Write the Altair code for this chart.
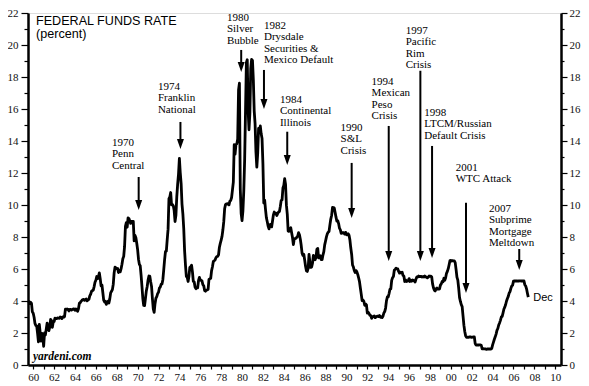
import altair as alt
import pandas as pd

FIRST_YEAR = 1960

# Monthly effective federal funds rate (percent)
rates_1960s = [
    3.99, 3.97, 3.84, 3.92, 3.85, 3.32, 3.23, 2.98, 2.60, 2.47, 2.44, 1.98,
    1.45, 2.54, 2.02, 1.49, 1.98, 1.73, 1.17, 2.00, 1.88, 2.26, 2.62, 2.33,
    2.15, 2.37, 2.85, 2.78, 2.36, 2.68, 2.71, 2.93, 2.90, 2.90, 2.94, 2.93,
    2.92, 3.00, 2.98, 2.90, 3.00, 2.99, 3.02, 3.49, 3.48, 3.50, 3.48, 3.38,
    3.48, 3.48, 3.43, 3.47, 3.50, 3.50, 3.42, 3.50, 3.45, 3.36, 3.52, 3.85,
    3.90, 3.98, 4.04, 4.09, 4.10, 4.04, 4.09, 4.12, 4.01, 4.08, 4.10, 4.32,
    4.42, 4.60, 4.65, 4.67, 4.90, 5.17, 5.30, 5.53, 5.40, 5.53, 5.76, 5.40,
    4.94, 5.00, 4.53, 4.05, 3.94, 3.98, 3.79, 3.90, 3.99, 3.88, 4.13, 4.51,
    4.61, 4.71, 5.05, 5.76, 6.11, 6.07, 6.02, 6.03, 5.78, 5.91, 5.82, 6.02,
    6.30, 6.64, 6.79, 7.41, 8.67, 8.90, 8.61, 9.19, 9.15, 9.00, 8.85, 8.97,
]
rates_1970s = [
    8.98, 8.98, 7.76, 8.10, 7.95, 7.61, 7.21, 6.61, 6.29, 6.20, 5.60, 4.90,
    4.14, 3.72, 3.71, 4.16, 4.63, 4.91, 5.31, 5.56, 5.55, 5.20, 4.91, 4.14,
    3.50, 3.29, 3.83, 4.17, 4.27, 4.46, 4.55, 4.80, 4.87, 5.04, 5.06, 5.33,
    5.94, 6.58, 7.09, 7.12, 7.84, 8.49, 10.40, 10.50, 10.78, 10.01, 10.03, 9.95,
    9.65, 8.97, 9.35, 10.51, 11.31, 11.93, 12.92, 12.01, 11.34, 10.06, 9.45, 8.53,
    7.13, 6.24, 5.54, 5.49, 5.22, 5.55, 6.10, 6.14, 6.24, 5.82, 5.22, 5.20,
    4.87, 4.77, 4.84, 4.82, 5.29, 5.48, 5.31, 5.29, 5.25, 5.02, 4.95, 4.65,
    4.61, 4.68, 4.69, 4.73, 5.35, 5.39, 5.42, 5.90, 6.14, 6.47, 6.51, 6.56,
    6.70, 6.78, 6.79, 6.89, 7.36, 7.60, 7.81, 8.04, 8.45, 8.96, 9.76, 10.03,
    10.07, 10.06, 10.09, 10.01, 10.24, 10.29, 10.47, 10.94, 11.43, 13.77, 13.18, 13.78,
]
rates_1980s = [
    13.82, 14.13, 17.19, 17.61, 10.98, 9.47, 9.03, 9.61, 10.87, 12.81, 15.85, 18.90,
    19.08, 15.93, 14.70, 15.72, 18.52, 19.10, 19.04, 17.82, 15.87, 15.08, 13.31, 12.37,
    13.22, 14.78, 14.68, 14.94, 14.45, 14.15, 12.59, 10.12, 10.31, 9.71, 9.20, 8.95,
    8.68, 8.51, 8.77, 8.80, 8.63, 8.98, 9.37, 9.56, 9.45, 9.48, 9.34, 9.47,
    9.56, 9.59, 9.91, 10.29, 10.32, 11.06, 11.23, 11.64, 11.30, 9.99, 9.43, 8.38,
    8.35, 8.50, 8.58, 8.27, 7.97, 7.53, 7.88, 7.90, 7.92, 7.99, 8.05, 8.27,
    8.14, 7.86, 7.48, 6.99, 6.85, 6.92, 6.56, 6.17, 5.89, 5.85, 6.04, 6.91,
    6.43, 6.10, 6.13, 6.37, 6.85, 6.73, 6.58, 6.73, 7.22, 7.29, 6.69, 6.77,
    6.83, 6.58, 6.58, 6.87, 7.09, 7.51, 7.75, 8.01, 8.19, 8.30, 8.35, 8.76,
    9.12, 9.36, 9.85, 9.84, 9.81, 9.53, 9.24, 8.99, 9.02, 8.84, 8.55, 8.45,
]
rates_1990s = [
    8.23, 8.24, 8.28, 8.26, 8.18, 8.29, 8.15, 8.13, 8.20, 8.11, 7.81, 7.31,
    6.91, 6.25, 6.12, 5.91, 5.78, 5.90, 5.82, 5.66, 5.45, 5.21, 4.81, 4.43,
    4.03, 4.06, 3.98, 3.73, 3.82, 3.76, 3.25, 3.30, 3.22, 3.10, 3.09, 2.92,
    3.02, 3.03, 3.07, 2.96, 3.00, 3.04, 3.06, 3.03, 3.09, 2.99, 3.02, 2.96,
    3.05, 3.25, 3.34, 3.56, 4.01, 4.25, 4.26, 4.47, 4.73, 4.76, 5.29, 5.45,
    5.53, 5.92, 5.98, 6.05, 6.01, 6.00, 5.85, 5.74, 5.80, 5.76, 5.80, 5.60,
    5.56, 5.22, 5.31, 5.22, 5.24, 5.27, 5.40, 5.22, 5.30, 5.24, 5.31, 5.29,
    5.25, 5.19, 5.39, 5.51, 5.50, 5.56, 5.52, 5.54, 5.54, 5.50, 5.52, 5.50,
    5.56, 5.51, 5.49, 5.45, 5.49, 5.56, 5.54, 5.55, 5.51, 5.07, 4.83, 4.68,
    4.63, 4.76, 4.81, 4.74, 4.74, 4.76, 4.99, 5.07, 5.22, 5.20, 5.42, 5.30,
]
rates_2000s = [
    5.45, 5.73, 5.85, 6.02, 6.27, 6.53, 6.54, 6.50, 6.52, 6.51, 6.51, 6.40,
    5.98, 5.49, 5.31, 4.80, 4.21, 3.97, 3.77, 3.65, 3.07, 2.49, 2.09, 1.82,
    1.73, 1.74, 1.73, 1.75, 1.75, 1.75, 1.73, 1.74, 1.75, 1.75, 1.34, 1.24,
    1.24, 1.26, 1.25, 1.26, 1.26, 1.22, 1.01, 1.03, 1.01, 1.01, 1.00, 0.98,
    1.00, 1.01, 1.00, 1.00, 1.00, 1.03, 1.26, 1.43, 1.61, 1.76, 1.93, 2.16,
    2.28, 2.50, 2.63, 2.79, 3.00, 3.04, 3.26, 3.50, 3.62, 3.78, 4.00, 4.16,
    4.29, 4.49, 4.59, 4.79, 4.94, 4.99, 5.24, 5.25, 5.25, 5.25, 5.25, 5.24,
    5.25, 5.26, 5.26, 5.25, 5.25, 5.25, 5.26, 5.02, 4.94, 4.76, 4.49, 4.24,
]

# Event annotations
ann_labels = [
    "1970\nPenn\nCentral",
    "1974\nFranklin\nNational",
    "1980\nSilver\nBubble",
    "1982\nDrysdale\nSecurities &\nMexico Default",
    "1984\nContinental\nIllinois",
    "1990\nS&L\nCrisis",
    "1994\nMexican\nPeso\nCrisis",
    "1997\nPacific\nRim\nCrisis",
    "1998\nLTCM/Russian\nDefault Crisis",
    "2001\nWTC Attack",
    "2007\nSubprime\nMortgage\nMeltdown",
]
ann_text_x = [1968.04, 1972.44, 1979.05, 1982.6, 1984.13, 1989.94, 1992.91, 1996.17, 1997.95, 2000.96, 2004.15]
ann_text_y = [13.69, 17.19, 21.5, 21.0, 16.38, 14.63, 17.5, 20.69, 15.56, 12.13, 9.56]
arrow_x = [1970.6, 1974.6, 1980.42, 1982.6, 1984.83, 1991.0, 1994.55, 1997.58, 1998.7, 2001.95, 2007.05]
arrow_top = [11.75, 15.19, 19.69, 18.44, 14.58, 12.63, 14.94, 18.39, 13.69, 10.14, 7.25]
arrow_tip = [9.69, 13.5, 18.31, 16.0, 12.5, 9.19, 6.5, 6.5, 6.69, 4.5, 5.94]

x_tick_values = [y + 0.5 for y in range(1960, 2011)]
y_tick_values = list(range(0, 23))

monthly = rates_1960s + rates_1970s + rates_1980s + rates_1990s + rates_2000s
df = pd.DataFrame({
    "t": [FIRST_YEAR + i / 12 for i in range(len(monthly))],
    "rate": monthly,
})
df_end = df.tail(1).assign(label="Dec")
df_ann = pd.DataFrame({"t": ann_text_x, "y": ann_text_y, "label": ann_labels})
df_arrow = pd.DataFrame({"t": arrow_x, "top": arrow_top, "tip": arrow_tip})
df_arrow["rule_end"] = df_arrow["tip"] + 0.3

SERIF = "Liberation Serif"
SANS = "Liberation Sans"

xscale = alt.Scale(domain=[1960.0, 2011.05], nice=False, zero=False)
yscale = alt.Scale(domain=[0, 22], nice=False, zero=False)

common_axis = dict(
    grid=False, title=None, domainColor="black", domainWidth=2.5,
    tickColor="black", tickWidth=1.2, labelFont=SERIF, labelFontSize=11,
    labelColor="#111", labelOverlap=False, labelFlush=False,
)

x_axis = alt.Axis(
    values=x_tick_values,
    labelExpr="floor(datum.value) % 2 == 0 ? substring(toString(floor(datum.value)), 2, 4) : ''",
    tickSize=4, labelPadding=2, **common_axis,
)
y_left = alt.Axis(
    orient="left", values=y_tick_values,
    labelExpr="datum.value % 2 == 0 ? datum.label : ''",
    tickSize={"condition": {"test": "datum.value % 2 == 0", "value": 7}, "value": 4},
    labelPadding=3, **common_axis,
)
y_right = alt.Axis(
    orient="right", values=y_tick_values,
    labelExpr="datum.value % 2 == 0 ? datum.label : ''",
    tickSize={"condition": {"test": "datum.value % 2 == 0", "value": 6}, "value": 3},
    labelPadding=2, **common_axis,
)

line = alt.Chart(df).mark_line(color="black", strokeWidth=2.8, strokeJoin="round").encode(
    x=alt.X("t:Q", scale=xscale, axis=x_axis),
    y=alt.Y("rate:Q", scale=yscale, axis=y_left),
)
line_right = alt.Chart(df).mark_line(opacity=0).encode(
    x=alt.X("t:Q", scale=xscale, axis=None),
    y=alt.Y("rate:Q", scale=yscale, axis=y_right),
)

rules = alt.Chart(df_arrow).mark_rule(color="black", strokeWidth=2).encode(
    x=alt.X("t:Q", scale=xscale, axis=None),
    y=alt.Y("top:Q", scale=yscale, axis=None),
    y2="rule_end:Q",
)
heads = alt.Chart(df_arrow).mark_point(
    shape="M-0.7,-1L0.7,-1L0,1Z", filled=True, size=100, color="black",
    opacity=1, strokeWidth=0, yOffset=-5,
).encode(
    x=alt.X("t:Q", scale=xscale, axis=None),
    y=alt.Y("tip:Q", scale=yscale, axis=None),
)

ann_text = alt.Chart(df_ann).mark_text(
    align="left", baseline="alphabetic", lineBreak="\n", lineHeight=11.4,
    font=SERIF, fontSize=11, color="black",
).encode(
    x=alt.X("t:Q", scale=xscale, axis=None),
    y=alt.Y("y:Q", scale=yscale, axis=None),
    text="label:N",
)

dec_text = alt.Chart(df_end).mark_text(
    align="left", baseline="middle", dx=5, dy=1, font=SANS, fontSize=11, color="black",
).encode(
    x=alt.X("t:Q", scale=xscale, axis=None),
    y=alt.Y("rate:Q", scale=yscale, axis=None),
    text="label:N",
)

title_df = pd.DataFrame({"label": ["FEDERAL FUNDS RATE"]})
sub_df = pd.DataFrame({"label": ["(percent)"]})
credit_df = pd.DataFrame({"label": ["yardeni.com"]})

title_text = alt.Chart(title_df).mark_text(
    align="left", baseline="alphabetic", font=SANS, fontSize=12.6, color="black",
).encode(x=alt.value(8), y=alt.value(12), text="label:N")
sub_text = alt.Chart(sub_df).mark_text(
    align="left", baseline="alphabetic", font=SANS, fontSize=12.6, color="black",
).encode(x=alt.value(8), y=alt.value(24.5), text="label:N")
credit_text = alt.Chart(credit_df).mark_text(
    align="left", baseline="alphabetic", font=SERIF, fontSize=11.5,
    fontStyle="italic", fontWeight="bold", color="black",
).encode(x=alt.value(5), y=alt.value(347), text="label:N")

chart = alt.layer(
    line, line_right, rules, heads, ann_text, dec_text, title_text, sub_text, credit_text
).resolve_axis(
    x="independent", y="independent"
).properties(
    width=533, height=352,
    padding={"left": 20, "top": 5, "right": 20, "bottom": 20},
    autosize=alt.AutoSizeParams(type="none"),
).configure_view(
    stroke="black", strokeWidth=2
).configure(background="white")

chart.save("out.html", embed_options={"renderer": "svg", "actions": False})
